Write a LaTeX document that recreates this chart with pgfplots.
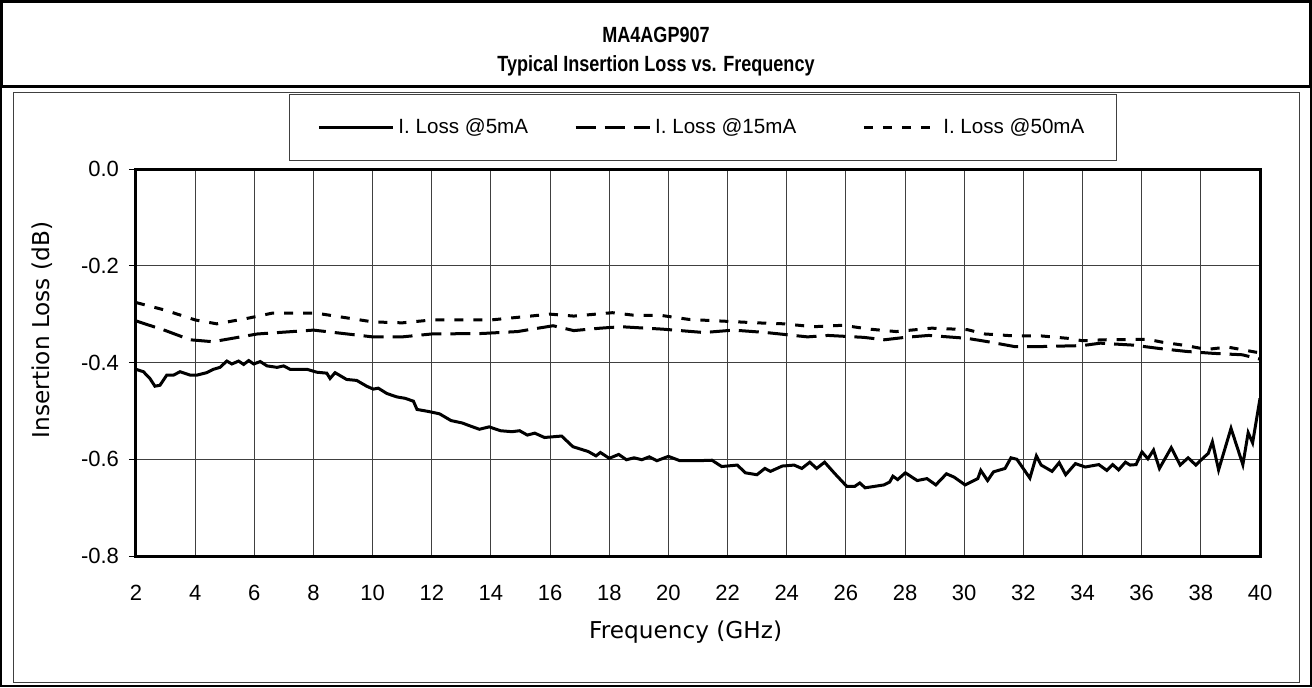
\documentclass[border=0pt]{standalone}
\usepackage{pgfplots}
\pgfplotsset{compat=1.18}
\usepackage{fontspec}
\setmainfont{Liberation Sans}
\newfontfamily\dejavu{DejaVu Sans}

\pgfplotstableread{
x y
2.00 -0.414
2.25 -0.419
2.47 -0.433
2.64 -0.449
2.81 -0.447
3.04 -0.426
3.27 -0.426
3.49 -0.419
3.83 -0.426
4.06 -0.426
4.39 -0.421
4.62 -0.414
4.84 -0.410
5.07 -0.397
5.24 -0.403
5.47 -0.397
5.64 -0.404
5.81 -0.396
5.98 -0.403
6.20 -0.398
6.43 -0.407
6.77 -0.410
6.99 -0.407
7.21 -0.414
7.78 -0.414
8.11 -0.420
8.45 -0.422
8.56 -0.433
8.73 -0.421
9.12 -0.435
9.46 -0.437
9.80 -0.449
10.02 -0.455
10.19 -0.453
10.48 -0.464
10.81 -0.471
11.10 -0.474
11.38 -0.480
11.50 -0.497
11.87 -0.501
12.26 -0.506
12.65 -0.520
13.03 -0.525
13.29 -0.531
13.61 -0.538
13.94 -0.533
14.32 -0.541
14.71 -0.543
14.97 -0.541
15.23 -0.550
15.48 -0.546
15.81 -0.555
16.39 -0.552
16.77 -0.574
17.29 -0.584
17.55 -0.593
17.70 -0.586
18.00 -0.598
18.32 -0.590
18.58 -0.601
18.84 -0.597
19.10 -0.601
19.35 -0.595
19.61 -0.603
20.00 -0.594
20.39 -0.603
20.97 -0.603
21.47 -0.602
21.80 -0.615
22.33 -0.612
22.60 -0.628
22.99 -0.632
23.26 -0.619
23.45 -0.625
23.85 -0.614
24.25 -0.612
24.51 -0.619
24.78 -0.606
25.01 -0.619
25.28 -0.606
25.63 -0.630
26.03 -0.656
26.30 -0.656
26.47 -0.649
26.65 -0.659
27.29 -0.653
27.48 -0.647
27.59 -0.635
27.75 -0.642
28.01 -0.628
28.41 -0.644
28.74 -0.640
29.04 -0.653
29.40 -0.630
29.66 -0.637
30.03 -0.653
30.46 -0.640
30.56 -0.623
30.79 -0.644
30.99 -0.626
31.38 -0.619
31.58 -0.597
31.78 -0.600
32.22 -0.639
32.44 -0.593
32.60 -0.612
32.97 -0.625
33.21 -0.607
33.43 -0.632
33.76 -0.609
34.09 -0.616
34.55 -0.611
34.82 -0.623
35.02 -0.611
35.22 -0.622
35.45 -0.606
35.61 -0.612
35.81 -0.611
36.01 -0.585
36.21 -0.599
36.40 -0.581
36.60 -0.619
37.00 -0.576
37.30 -0.612
37.57 -0.597
37.83 -0.612
38.12 -0.595
38.25 -0.588
38.39 -0.564
38.60 -0.622
39.02 -0.536
39.42 -0.611
39.60 -0.545
39.75 -0.566
40.00 -0.474
}\lossA

\pgfplotstableread{
x y
2.0 -0.314
3.0 -0.334
3.83 -0.353
4.6 -0.357
6.1 -0.341
8.0 -0.333
10.0 -0.347
11.0 -0.347
12.0 -0.341
13.7 -0.340
14.9 -0.336
16.1 -0.324
16.8 -0.334
17.7 -0.329
18.4 -0.326
19.8 -0.331
21.2 -0.338
22.2 -0.333
23.3 -0.338
24.7 -0.347
25.4 -0.344
26.6 -0.348
27.3 -0.353
28.0 -0.348
28.8 -0.344
30.1 -0.350
30.8 -0.357
31.7 -0.367
32.6 -0.367
34.0 -0.365
34.6 -0.360
35.7 -0.364
36.6 -0.371
37.5 -0.377
38.4 -0.381
39.4 -0.384
40.0 -0.393
}\lossB

\pgfplotstableread{
x y
2.0 -0.276
3.0 -0.292
4.0 -0.312
4.73 -0.320
5.74 -0.309
6.6 -0.298
8.1 -0.298
10.0 -0.316
11.0 -0.318
12.0 -0.312
14.0 -0.312
15.0 -0.306
16.0 -0.300
16.8 -0.304
18.1 -0.297
18.8 -0.302
19.8 -0.303
20.7 -0.311
21.7 -0.314
23.0 -0.318
23.9 -0.320
24.9 -0.326
25.9 -0.323
26.8 -0.331
27.7 -0.336
28.9 -0.329
30.1 -0.332
30.7 -0.341
31.7 -0.345
32.6 -0.345
33.5 -0.350
34.0 -0.355
34.7 -0.353
36.2 -0.352
36.7 -0.358
37.5 -0.365
38.2 -0.373
38.9 -0.368
39.8 -0.378
40.0 -0.380
}\lossC

\begin{document}
\begin{tikzpicture}
\useasboundingbox (0,0) rectangle (656pt,-343.5pt);
% outer frame
\draw[line width=1pt] (0.5pt,-0.5pt) rectangle (655.5pt,-343pt);
% title box
\draw[line width=1.5pt] (0.75pt,-0.75pt) rectangle (655.25pt,-43pt);
\node[font=\bfseries\fontsize{11}{13}\selectfont] at (328pt,-17.5pt) {\scalebox{0.82}[1]{MA4AGP907}};
\node[font=\bfseries\fontsize{11}{13}\selectfont] at (328pt,-33pt) {\scalebox{0.82}[1]{Typical Insertion Loss vs. Frequency}};
% inner frame
\draw[line width=0.5pt, black!75] (6.5pt,-46pt) rectangle (649.5pt,-341pt);

\begin{axis}[
  at={(68pt,-278pt)}, anchor=south west,
  width=562pt, height=193.5pt, scale only axis,
  xmin=2, xmax=40, ymin=-0.8, ymax=0,
  xtick={2,4,6,8,10,12,14,16,18,20,22,24,26,28,30,32,34,36,38,40},
  xticklabels={2,4,6,8,10,12,14,16,18,20,22,24,26,28,30,32,34,36,38,40},
  ytick={-0.8,-0.6,-0.4,-0.2,0},
  yticklabels={-0.8,-0.6,-0.4,-0.2,0.0},
  grid=major,
  major grid style={line width=0.5pt, black!75},
  axis line style={line width=1.5pt},
  tick align=outside,
  xtick pos=bottom, ytick pos=left,
  xtick style={draw=none},
  ytick style={line width=0.5pt, black},
  major tick length=3.5pt,
  ticklabel style={font=\fontsize{11}{13}\selectfont},
  xticklabel style={yshift=-7.5pt},
  yticklabel style={xshift=-1.5pt},
  xlabel={Frequency (GHz)},
  ylabel={Insertion Loss (dB)},
  every axis x label/.style={at={(axis description cs:0.489,0)}, anchor=center, yshift=-38pt, font=\dejavu\fontsize{11.6}{13}\selectfont},
  every axis y label/.style={at={(axis description cs:-0.0836,0.584)}, anchor=center, rotate=90, font=\dejavu\fontsize{11.6}{13}\selectfont},
  legend columns=3,
  legend style={at={(rel axis cs:0.1361,1.1938)}, anchor=north west, draw=black!75, line width=0.5pt, inner xsep=14pt, inner ysep=10pt, font=\fontsize{10.3}{12}\selectfont, column sep=0pt},
  legend image code/.code={\draw[#1] (0pt,0pt) -- (37pt,0pt);},
]
\addplot[black, line width=1.5pt] table[x=x,y=y] {\lossA};
\addlegendentry{I. Loss @5mA\hspace*{21pt}}
\addplot[black, line width=1.5pt, dash pattern=on 10pt off 4.5pt] table[x=x,y=y] {\lossB};
\addlegendentry{I. Loss @15mA\hspace*{31pt}}
\addplot[black, line width=1.5pt, dash pattern=on 4.5pt off 5pt] table[x=x,y=y] {\lossC};
\addlegendentry{I. Loss @50mA}
\end{axis}
\end{tikzpicture}
\end{document}
